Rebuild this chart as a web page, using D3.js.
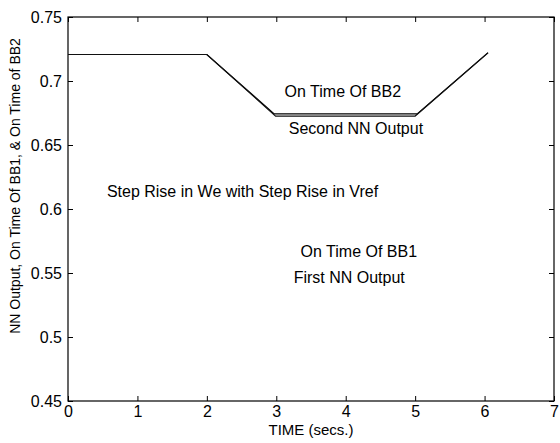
<!DOCTYPE html>
<html>
<head>
<meta charset="utf-8">
<script src="https://cdn.jsdelivr.net/npm/d3@7"></script>
<style>
  body { margin: 0; background: #fff; }
  svg text { font-family: "Liberation Sans", Arial, sans-serif; fill: #000; }
</style>
</head>
<body>
<div id="chart"></div>
<script>
// time (secs.) and values
var bb2Time = [0, 2, 2.97, 5.03, 6.05]
var bb2Val  = [0.7207, 0.7207, 0.6743, 0.6743, 0.7222]
var nn2Time = [0, 2, 2.99, 5.0, 6.05]
var nn2Val  = [0.7207, 0.7207, 0.6726, 0.6726, 0.722]

var xTicks = [0, 1, 2, 3, 4, 5, 6, 7]
var yTicks = [0.45, 0.5, 0.55, 0.6, 0.65, 0.7, 0.75]

var notes = [
    { text: "On Time Of BB2", t: 3.12, v: 0.6875 },
    { text: "Second NN Output", t: 3.18, v: 0.6586 },
    { text: "Step Rise in We with Step Rise in Vref", t: 0.56, v: 0.6094 },
    { text: "On Time Of BB1", t: 3.35, v: 0.5625 },
    { text: "First NN Output", t: 3.25, v: 0.5422 }
]

var width = 560, height = 443
var margin = { top: 17, right: 6, bottom: 42, left: 68 }
var w = width - margin.left - margin.right,
    h = height - margin.top - margin.bottom

var x = d3.scaleLinear().domain([0, 7]).range([0, w])
var y = d3.scaleLinear().domain([0.45, 0.75]).range([h, 0])

var svg = d3.select("#chart").append("svg")
        .attr("width", width)
        .attr("height", height)
    .append("g")
        .attr("transform", "translate(" + margin.left + "," + margin.top + ")")

// axes with inward ticks, box style
var fmtY = function(d) { return d3.format(".2~f")(d) }
svg.append("g")
    .attr("transform", "translate(0," + h + ")")
    .call(d3.axisBottom(x).tickValues(xTicks).tickSizeInner(-5).tickSizeOuter(0).tickPadding(5).tickFormat(d3.format("d")))
svg.append("g")
    .call(d3.axisTop(x).tickValues(xTicks).tickSizeInner(-5).tickSizeOuter(0).tickFormat(""))
svg.append("g")
    .call(d3.axisLeft(y).tickValues(yTicks).tickSizeInner(-5).tickSizeOuter(0).tickPadding(6).tickFormat(fmtY))
svg.append("g")
    .attr("transform", "translate(" + w + ",0)")
    .call(d3.axisRight(y).tickValues(yTicks).tickSizeInner(-5).tickSizeOuter(0).tickFormat(""))

svg.selectAll(".domain").remove()
svg.selectAll(".tick line").attr("stroke", "#000")
svg.selectAll(".tick text")
    .style("font-size", "16px")
    .style("font-family", "'Liberation Sans', Arial, sans-serif")

svg.append("rect")
    .attr("width", w)
    .attr("height", h)
    .attr("fill", "none")
    .attr("stroke", "#000")
    .attr("stroke-width", 1.2)

var line = d3.line()
    .x(function(d) { return x(d[0]) })
    .y(function(d) { return y(d[1]) })

function pairs(ts, vs) {
    return ts.map(function(t, i) { return [t, vs[i]] })
}

svg.append("path")
    .datum(pairs(bb2Time, bb2Val))
    .attr("d", line)
    .attr("fill", "none")
    .attr("stroke", "#000")
    .attr("stroke-width", 1.2)
svg.append("path")
    .datum(pairs(nn2Time, nn2Val))
    .attr("d", line)
    .attr("fill", "none")
    .attr("stroke", "#111")
    .attr("stroke-width", 1.2)

svg.selectAll(".note")
    .data(notes)
  .enter().append("text")
    .attr("class", "note")
    .attr("x", function(d) { return x(d.t) })
    .attr("y", function(d) { return y(d.v) })
    .style("font-size", "16px")
    .text(function(d) { return d.text })

svg.append("text")
    .attr("x", w / 2)
    .attr("y", h + 34)
    .attr("text-anchor", "middle")
    .style("font-size", "15px")
    .text("TIME (secs.)")

svg.append("text")
    .attr("transform", "translate(" + (20 - margin.left) + "," + (186 - margin.top) + ") rotate(-90)")
    .attr("text-anchor", "middle")
    .style("font-size", "14px")
    .text("NN Output, On Time Of BB1, & On Time of BB2")
</script>
</body>
</html>
